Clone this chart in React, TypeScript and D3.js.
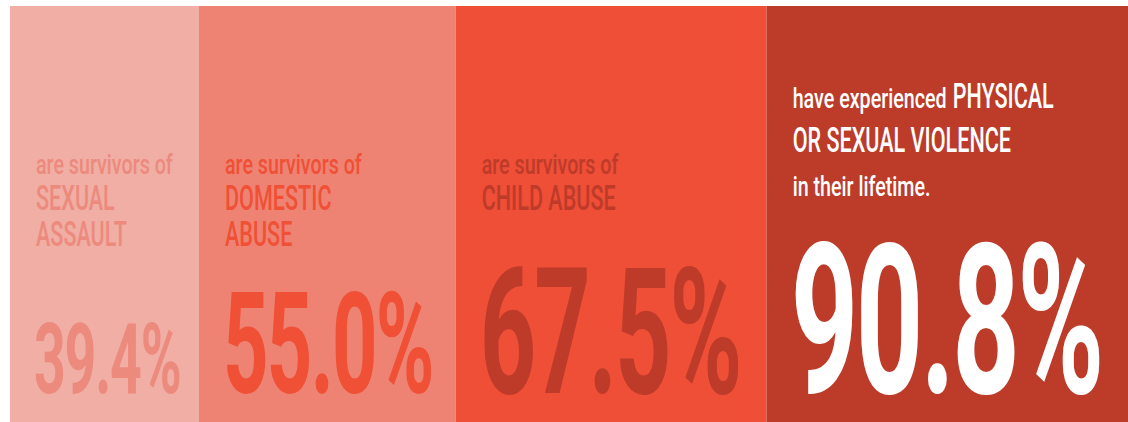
import * as React from 'react';
import { useEffect, useRef } from 'react';
import * as d3 from 'd3';

// Data
const categories = ['SEXUAL ASSAULT', 'DOMESTIC ABUSE', 'CHILD ABUSE', 'PHYSICAL OR SEXUAL VIOLENCE'];
const values = [39.4, 55.0, 67.5, 90.8];
const valueLabels = ['39.4%', '55.0%', '67.5%', '90.8%'];

// label lines per block: each line is a list of [text, kind] segments
type Seg = [string, 'lead' | 'cap'];
const labelLines: Seg[][][] = [
  [[['are survivors of', 'lead']], [['SEXUAL', 'cap']], [['ASSAULT', 'cap']]],
  [[['are survivors of', 'lead']], [['DOMESTIC', 'cap']], [['ABUSE', 'cap']]],
  [[['are survivors of', 'lead']], [['CHILD ABUSE', 'cap']]],
  [
    [['have experienced', 'lead'], ['PHYSICAL', 'cap']],
    [['OR SEXUAL VIOLENCE', 'cap']],
    [['in their lifetime.', 'lead']],
  ],
];

const bgColors = ['#F0AEA5', '#EE8373', '#EF4E37', '#BC3B29'];
const textColors = ['#EC8A7D', '#EF5036', '#BE3B29', '#FFFFFF'];

const W = 1128;
const H = 422;

const Chart: React.FC = () => {
  const svgRef = useRef<SVGSVGElement>(null);

  useEffect(() => {
    const svg = d3.select(svgRef.current);
    svg.selectAll('*').remove();

    const font = 'Roboto, "Liberation Sans", sans-serif';
    const left = 10;
    const top = 6;
    const pad = 26;

    // block widths grow with the value
    const xw = d3.scaleLinear().domain([0, 100]).range([18, 452]);
    const starts: number[] = [];
    let acc = left;
    values.forEach(v => {
      starts.push(acc);
      acc += xw(v);
    });

    // cap height of the big number by value
    const capScale = d3.scaleLinear().domain([30, 70, 100]).range([52, 130, 158]);
    const numSx = 0.56;

    const style = {
      lead: { size: 27, sx: 0.73, weight: 500 },
      cap: { size: 36, sx: 0.6, weight: 500 },
    };

    const blocks = svg.selectAll('g.block')
      .data(values)
      .enter().append('g')
      .attr('class', 'block');

    blocks.append('rect')
      .attr('x', (_, i) => starts[i])
      .attr('y', top)
      .attr('width', (d, i) => (i === values.length - 1 ? W - starts[i] : xw(d)))
      .attr('height', H - top)
      .attr('fill', (_, i) => bgColors[i]);

    blocks.each(function (v, i) {
      const g = d3.select(this);
      const x0 = starts[i] + pad;
      const last = i === values.length - 1;
      const firstBase = last ? 108 : 174;
      const gap = last ? 44 : 36;

      labelLines[i].forEach((line, li) => {
        let cx = x0;
        const y = firstBase + li * gap;
        line.forEach(([txt, kind], si) => {
          const st = style[kind];
          if (si > 0) cx += 6;
          const t = g.append('text')
            .attr('transform', `translate(${cx},${y}) scale(${st.sx},1)`)
            .attr('font-family', font)
            .attr('font-size', st.size)
            .attr('font-weight', st.weight)
            .attr('fill', textColors[i])
            .text(txt);
          const len = (t.node() as SVGTextElement).getComputedTextLength();
          cx += len * st.sx;
        });
      });

      const cap = capScale(v);
      g.append('text')
        .attr('transform', `translate(${x0 - 2},393) scale(${numSx},1)`)
        .attr('font-family', font)
        .attr('font-size', cap / 0.711)
        .attr('font-weight', 700)
        .attr('letter-spacing', -0.03 * cap)
        .attr('fill', textColors[i])
        .text(valueLabels[i]);
    });

    svg.append('title').text(categories.join(', '));
  }, []);

  return (
    <svg
      ref={svgRef}
      width={W}
      height={H}
      style={{ position: 'absolute', left: 0, top: 0, background: '#fff' }}
    />
  );
};

export default function App() {
  return <Chart />;
}
